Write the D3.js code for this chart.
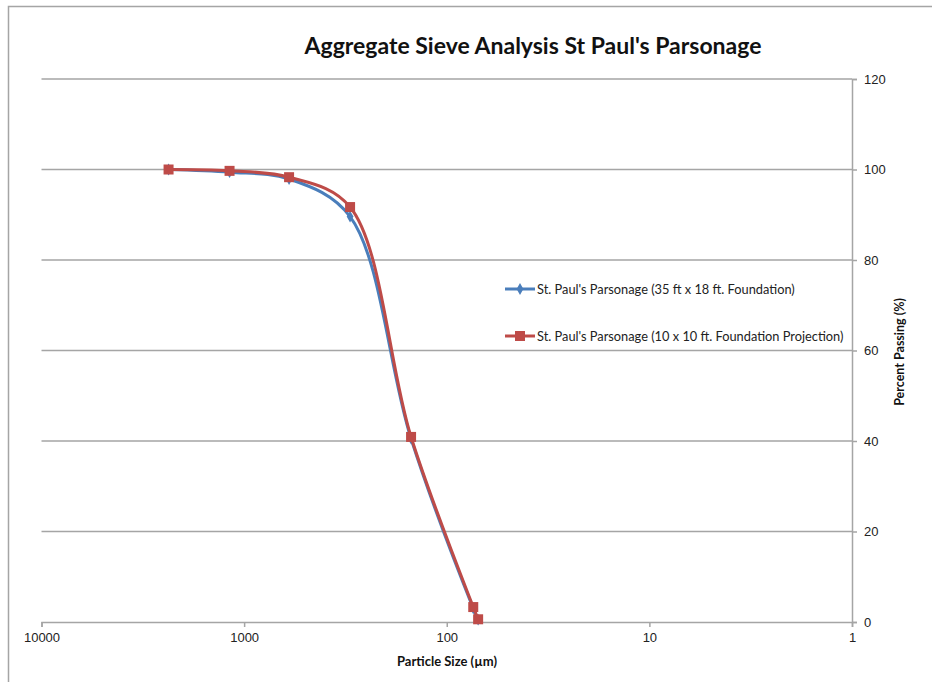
<!DOCTYPE html>
<html>
<head>
<meta charset="utf-8">
<script src="https://cdn.jsdelivr.net/npm/d3@7"></script>
<style>
  body { margin: 0; background: #fff; }
  svg { display: block; font-family: Lato, "Open Sans", sans-serif; }
</style>
</head>
<body>
<svg id="chart" width="932" height="682"></svg>
<script>
const sizes = [2360, 1180, 600, 300, 150, 74, 70];
const series1Name = "St. Paul's Parsonage (35 ft x 18 ft. Foundation)";
const series1Values = [100, 99.4, 97.9, 89.6, 40.5, 3.0, 0.5];
const series2Name = "St. Paul's Parsonage (10 x 10 ft. Foundation Projection)";
const series2Values = [100, 99.7, 98.3, 91.7, 40.9, 3.3, 0.6];
const xTicks = [10000, 1000, 100, 10, 1];
const yTicks = [0, 20, 40, 60, 80, 100, 120];
const titleText = "Aggregate Sieve Analysis St Paul's Parsonage";
const xTitle = "Particle Size (µm)";
const yTitle = "Percent Passing (%)";

(function () {
const svg = d3.select("#chart");
const pLeft = 41.5, pRight = 852, pTop = 79, pBottom = 622;
const x = d3.scaleLog().domain([10000, 1]).range([pLeft, pRight]);
const y = d3.scaleLinear().domain([0, 120]).range([pBottom, pTop]);
const grey = "#a5a5a5";

// outer border
svg.append("rect").attr("x", 8.5).attr("y", 6.5).attr("width", 940).attr("height", 700)
  .attr("fill", "none").attr("stroke", grey).attr("stroke-width", 1.5);

// gridlines
svg.append("g").selectAll("line").data(yTicks.filter(d => d > 0)).join("line")
  .attr("x1", pLeft).attr("x2", pRight).attr("y1", d => y(d)).attr("y2", d => y(d))
  .attr("stroke", grey).attr("stroke-width", 1.5);

// x axis
const xAxis = d3.axisBottom(x).tickValues(xTicks).tickFormat(d3.format("d")).tickSize(5).tickPadding(6);
const gx = svg.append("g").attr("transform", `translate(0,${pBottom})`).call(xAxis);
gx.select(".domain").attr("stroke", grey).attr("stroke-width", 1.5);
gx.selectAll(".tick line").attr("stroke", grey).attr("stroke-width", 1.5);
gx.selectAll("text").attr("font-size", 13).attr("fill", "#222");

// y axis (right side)
const yAxis = d3.axisRight(y).tickValues(yTicks).tickSize(5).tickPadding(7);
const gy = svg.append("g").attr("transform", `translate(${pRight},0)`).call(yAxis);
gy.select(".domain").attr("stroke", grey).attr("stroke-width", 1.5);
gy.selectAll(".tick line").attr("stroke", grey).attr("stroke-width", 1.5);
gy.selectAll("text").attr("font-size", 13).attr("fill", "#222");

// titles
svg.append("text").attr("x", 533).attr("y", 54).attr("text-anchor", "middle")
  .attr("font-size", 23).attr("font-weight", "bold").attr("fill", "#111").text(titleText);
svg.append("text").attr("x", 447).attr("y", 666).attr("text-anchor", "middle")
  .attr("font-size", 13).attr("font-weight", "bold").attr("fill", "#111").text(xTitle);
svg.append("text").attr("transform", "translate(904,352) rotate(-90)").attr("text-anchor", "middle")
  .attr("font-size", 12.5).attr("font-weight", "bold").attr("fill", "#111").text(yTitle);

const line = d3.line().x(d => x(d[0])).y(d => y(d[1])).curve(d3.curveCatmullRom.alpha(0.5));
const s1 = sizes.map((s, i) => [s, series1Values[i]]);
const s2 = sizes.map((s, i) => [s, series2Values[i]]);

const blue = "#4a7ebb", red = "#be4b48";
svg.append("path").attr("d", line(s1)).attr("fill", "none").attr("stroke", blue).attr("stroke-width", 3);
svg.append("g").selectAll("path").data(s1).join("path")
  .attr("d", d3.symbol(d3.symbolDiamond, 40))
  .attr("transform", d => `translate(${x(d[0])},${y(d[1])})`).attr("fill", blue);
svg.append("path").attr("d", line(s2)).attr("fill", "none").attr("stroke", red).attr("stroke-width", 3);
svg.append("g").selectAll("rect").data(s2).join("rect")
  .attr("x", d => x(d[0]) - 5).attr("y", d => y(d[1]) - 5).attr("width", 10).attr("height", 10)
  .attr("fill", red);

// legend
const legend = [
  {name: series1Name, color: blue, sym: "diamond", yy: 289},
  {name: series2Name, color: red, sym: "square", yy: 336}
];
const lg = svg.append("g");
legend.forEach(l => {
  lg.append("line").attr("x1", 505).attr("x2", 535).attr("y1", l.yy).attr("y2", l.yy)
    .attr("stroke", l.color).attr("stroke-width", 3);
  if (l.sym === "diamond") {
    lg.append("path").attr("d", d3.symbol(d3.symbolDiamond, 40))
      .attr("transform", `translate(520,${l.yy})`).attr("fill", l.color);
  } else {
    lg.append("rect").attr("x", 515).attr("y", l.yy - 5).attr("width", 10).attr("height", 10).attr("fill", l.color);
  }
  lg.append("text").attr("x", 537).attr("y", l.yy + 4.5).attr("font-size", 12.8).attr("fill", "#222").text(l.name);
});
})();
</script>
</body>
</html>
